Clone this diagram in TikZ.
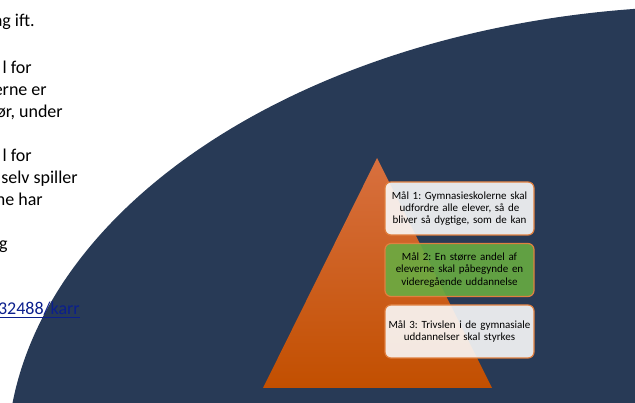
\documentclass[tikz,border=0pt]{standalone}
\usepackage{fontspec}
\setmainfont{Carlito}
\usepackage{xcolor}
\usepackage{tikz}
\frenchspacing

\definecolor{navy}{HTML}{283A56}
\definecolor{orangetop}{HTML}{D8703F}
\definecolor{orangebot}{HTML}{C24F00}
\definecolor{boxline}{HTML}{E08040}
\definecolor{goalgreen}{HTML}{68AC42}
\definecolor{linkblue}{HTML}{0B1F8C}

\tikzset{
  goal/.style={draw=boxline, line width=1.2pt, rounded corners=6pt,
    minimum width=149pt, minimum height=53pt, text width=145pt,
    align=center, inner sep=0pt, fill opacity=0.9, text opacity=1,
    font=\fontsize{11}{12.4}\selectfont},
  side/.style={anchor=base east, inner sep=0pt,
    font=\fontsize{18}{22}\selectfont}
}

\begin{document}
\begin{tikzpicture}[x=1pt, y=-1pt, semithick]
        \useasboundingbox (0, 0) rectangle (635, 403);
        \clip (0, 0) rectangle (635, 403);
        % background arc
        \fill[navy] (715, 460) ellipse [x radius=708, y radius=454];
        % text cut off at the left
        \node[side] (t1) at (35, 27) {ag ift.};
        \node[side] (t2) at (32, 74) {l for};
        \node[side] (t3) at (47, 96) {erne er};
        \node[side] (t4) at (63, 118) {ør, under};
        \node[side] (t5) at (32, 162) {l for};
        \node[side] (t6) at (78, 184) {selv spiller};
        \node[side] (t7) at (43, 206) {ne har};
        \node[side] (t8) at (8, 250) {g};
        \node[side, text=linkblue] (t9) at (80, 315) {\underline{32488/karr}};
        % pyramid
		\node (1) at (377, 158) {};
		\node (2) at (263, 388) {};
		\node (3) at (492, 388) {};
        \shade[top color=orangetop, bottom color=orangebot]
            (1.center) -- (2.center) -- (3.center) -- cycle;
        % goals
        \node[goal, fill=white!95!gray] (m1) at (459.5, 208.5)
            {Mål 1: Gymnasieskolerne skal\\udfordre alle elever, så de\\bliver så dygtige, som de kan};
        \node[goal, fill=goalgreen] (m2) at (459.5, 270)
            {Mål 2: En større andel af\\eleverne skal påbegynde en\\videregående uddannelse};
        \node[goal, fill=white!95!gray] (m3) at (459.5, 331.5)
            {Mål 3: Trivslen i de gymnasiale\\uddannelser skal styrkes};
    \end{tikzpicture}
\end{document}
